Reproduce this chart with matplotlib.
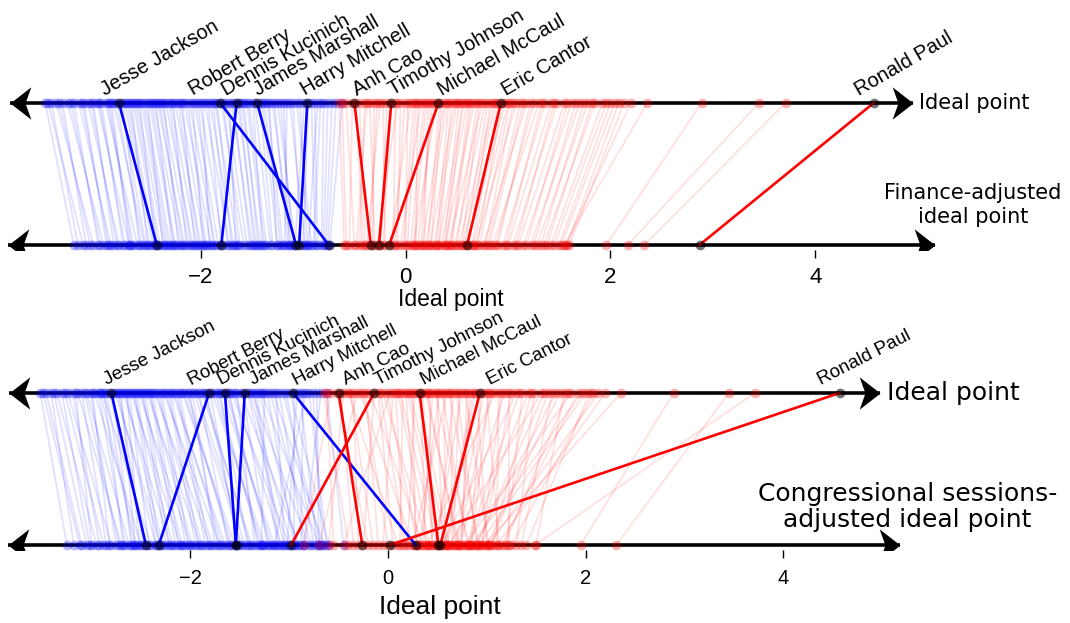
import numpy as np
import matplotlib.pyplot as plt
from matplotlib.path import Path

# Democrats (not named): ideal point, finance-adjusted, session-adjusted
dem_ideal = [-3.52, -3.46, -3.41, -3.35, -3.30, -3.24, -3.19, -3.14, -3.10, -3.05,
             -3.01, -2.97, -2.93, -2.89, -2.85, -2.76, -2.72, -2.68, -2.64, -2.60,
             -2.56, -2.52, -2.48, -2.44, -2.40, -2.36, -2.31, -2.27, -2.22, -2.18,
             -2.13, -2.08, -2.03, -1.98, -1.93, -1.88, -1.84, -1.78, -1.72, -1.68,
             -1.62, -1.58, -1.53, -1.49, -1.42, -1.38, -1.33, -1.28, -1.22, -1.16,
             -1.10, -1.03, -0.99, -0.92, -0.86, -0.80, -0.72, -0.62,
             -3.49, -3.38, -3.27, -3.16, -3.07, -2.99, -2.91, -2.87, -2.82, -2.78,
             -2.74, -2.70, -2.66, -2.62, -2.58, -2.54, -2.50, -2.46, -2.42, -2.38,
             -2.34, -2.29, -2.25, -2.20, -2.16, -2.11, -2.06, -2.01, -1.96, -1.91,
             -1.86, -1.80, -1.75, -1.70, -1.64, -1.60, -1.55, -1.47, -1.40, -1.35,
             -1.30, -1.25, -1.19, -1.13, -1.06, -0.95, -0.89, -0.83, -0.76, -0.68]
dem_finance = [-3.24, -3.20, -3.05, -3.12, -2.95, -3.00, -2.88, -2.92, -2.80, -2.85,
               -2.70, -2.76, -2.62, -2.68, -2.55, -2.60, -2.47, -2.52, -2.40, -2.44,
               -2.32, -2.37, -2.25, -2.28, -2.18, -2.22, -2.10, -2.14, -2.02, -2.06,
               -1.95, -1.98, -1.88, -1.92, -1.80, -1.74, -1.70, -1.62, -1.66, -1.52,
               -1.48, -1.44, -1.36, -1.40, -1.30, -1.22, -1.26, -1.15, -1.10, -1.18,
               -1.02, -0.96, -1.08, -0.88, -0.95, -0.82, -0.78, -0.74,
               -3.15, -3.08, -2.98, -2.90, -2.82, -2.74, -2.66, -2.70, -2.58, -2.54,
               -2.50, -2.45, -2.42, -2.36, -2.34, -2.30, -2.26, -2.20, -2.16, -2.12,
               -2.08, -2.04, -2.00, -1.96, -1.90, -1.86, -1.83, -1.78, -1.72, -1.68,
               -1.64, -1.58, -1.55, -1.50, -1.46, -1.42, -1.38, -1.32, -1.25, -1.20,
               -1.12, -1.08, -1.14, -0.98, -0.92, -1.00, -0.86, -0.90, -0.80, -0.76]
dem_session = [-3.25, -3.10, -3.18, -2.95, -3.02, -2.80, -2.92, -2.70, -2.85, -2.62,
               -2.75, -2.50, -2.66, -2.40, -2.58, -2.30, -2.48, -2.20, -2.52, -2.10,
               -2.35, -2.00, -2.25, -1.90, -2.15, -1.80, -2.05, -1.70, -1.95, -1.65,
               -1.85, -1.55, -1.60, -1.75, -1.45, -1.38, -1.50, -1.25, -1.30, -1.15,
               -1.20, -1.00, -1.35, -0.90, -1.05, -0.80, -1.10, -0.70, -0.95, -0.65,
               -0.85, -0.75, -0.60, -1.02, -0.88, -0.62, -0.70, -0.45,
               -3.12, -3.05, -2.88, -3.00, -2.72, -2.82, -2.55, -2.68, -2.45, -2.60,
               -2.35, -2.56, -2.28, -2.42, -2.18, -2.32, -2.08, -2.22, -1.98, -2.12,
               -1.88, -2.02, -1.78, -1.92, -1.68, -1.82, -1.58, -1.72, -1.48, -1.62,
               -1.40, -1.52, -1.28, -1.42, -1.18, -1.32, -1.08, -1.22, -0.98, -1.12,
               -0.92, -1.28, -0.78, -1.05, -0.68, -0.95, -0.72, -1.15, -0.66, -0.85]

# Republicans (not named)
rep_ideal = [-0.65, -0.58, -0.52, -0.45, -0.40, -0.35, -0.28, -0.22, -0.18, -0.10,
             -0.05, 0.02, 0.08, 0.12, 0.18, 0.22, 0.27, 0.35, 0.40, 0.45,
             0.50, 0.55, 0.60, 0.64, 0.70, 0.75, 0.80, 0.86, 0.90, 0.97,
             1.02, 1.08, 1.12, 1.18, 1.25, 1.30, 1.36, 1.42, 1.48, 1.55,
             1.62, 1.70, 1.78, 1.85, 1.92, 2.00, 2.08, 2.13, 2.36, 2.89,
             3.45, 3.71,
             -0.62, -0.48, -0.38, -0.31, -0.25, -0.14, -0.08, -0.01, 0.05, 0.10,
             0.15, 0.20, 0.25, 0.30, 0.33, 0.38, 0.42, 0.48, 0.52, 0.57,
             0.62, 0.67, 0.72, 0.78, 0.83, 0.88, 0.94, 1.00, 1.05, 1.15,
             1.22, 1.33, 1.45, 1.58, 1.66, 1.74, 1.82, 1.96, 2.04, 2.20]
rep_finance = [-0.60, -0.50, -0.55, -0.40, -0.45, -0.30, -0.35, -0.20, -0.25, -0.12,
               -0.08, 0.00, -0.02, 0.10, 0.05, 0.18, 0.12, 0.25, 0.20, 0.32,
               0.28, 0.40, 0.35, 0.45, 0.50, 0.42, 0.58, 0.52, 0.65, 0.60,
               0.72, 0.68, 0.80, 0.76, 0.88, 0.85, 0.95, 1.00, 1.05, 1.10,
               1.15, 1.22, 1.28, 1.35, 1.42, 1.50, 1.58, 1.60, 1.55, 1.96,
               2.17, 2.33,
               -0.58, -0.42, -0.48, -0.32, -0.38, -0.22, -0.28, -0.10, -0.15, 0.02,
               -0.05, 0.08, 0.15, 0.08, 0.22, 0.16, 0.30, 0.24, 0.38, 0.32,
               0.44, 0.38, 0.55, 0.48, 0.62, 0.56, 0.70, 0.66, 0.78, 0.82,
               0.90, 0.98, 1.08, 1.18, 1.25, 1.32, 1.38, 1.45, 1.52, 1.56]
rep_session = [-0.40, -0.85, -0.20, -0.60, 0.10, -0.30, 0.25, -0.10, 0.35, 0.05,
               0.40, -0.45, 0.15, 0.50, 0.30, 0.60, 0.20, 0.45, 0.70, 0.35,
               0.55, 0.80, 0.25, 0.65, 0.90, 0.48, 0.75, 0.58, 1.00, 0.68,
               0.85, 0.40, 1.10, 0.72, 0.95, 0.55, 1.20, 0.82, 1.30, 0.62,
               1.05, 0.88, 1.50, 0.78, 1.15, 0.92, 1.25, 1.02, 0.98, 1.95,
               2.31, 1.49,
               -0.55, -0.35, -0.15, -0.70, 0.00, -0.25, 0.18, 0.30, -0.05, 0.42,
               0.12, 0.52, 0.28, 0.62, 0.38, 0.72, 0.45, 0.82, 0.32, 0.58,
               0.92, 0.50, 0.66, 1.02, 0.74, 0.60, 0.84, 1.12, 0.70, 0.95,
               1.22, 0.80, 1.05, 0.90, 1.35, 1.00, 1.18, 0.85, 1.40, 1.10]

# named legislators
names = ['Jesse Jackson', 'Robert Berry', 'Dennis Kucinich', 'James Marshall',
         'Harry Mitchell', 'Anh Cao', 'Timothy Johnson', 'Michael McCaul',
         'Eric Cantor', 'Ronald Paul']
name_party = ['D', 'D', 'D', 'D', 'D', 'R', 'R', 'R', 'R', 'R']
name_ideal = [-2.80, -1.81, -1.65, -1.45, -0.96, -0.50, -0.14, 0.32, 0.93, 4.57]
name_finance = [-2.43, -0.75, -1.80, -1.07, -1.04, -0.34, -0.26, -0.16, 0.60, 2.87]
name_session = [-2.45, -2.32, -1.54, -1.54, 0.28, -0.26, -0.98, 0.51, 0.53, 0.02]

tick_values = [-2, 0, 2, 4]

BLUE = '#0000ff'
RED = '#ff0000'

# arrowheads as markers, tip at the marker position
codes = [Path.MOVETO, Path.LINETO, Path.LINETO, Path.LINETO, Path.CLOSEPOLY]
head_right = Path([(0, 0), (-18, 14), (-13, 0), (-18, -14), (0, 0)], codes)
head_left = Path([(0, 0), (18, 14), (13, 0), (18, -14), (0, 0)], codes)


def axis_arrow(ax, y, left, right):
    ax.plot([left, right], [y, y], color='k', lw=2.6, zorder=2, solid_capstyle='butt')
    ax.plot(left, y, marker=head_left, ms=30, color='k', mew=0, zorder=6)
    ax.plot(right, y, marker=head_right, ms=30, color='k', mew=0, zorder=6)


def draw_panel(ax, dem_bottom, rep_bottom, named_bottom, ext, label_dx, label_dy, rot, name_kw):
    for top, bot, col in [(dem_ideal, dem_bottom, BLUE), (rep_ideal, rep_bottom, RED)]:
        for a, b in zip(top, bot):
            ax.plot([a, b], [1, 0], color=col, alpha=0.12, lw=1.3, zorder=1)
    axis_arrow(ax, 1, ext[0], ext[1])
    axis_arrow(ax, 0, ext[2], ext[3])
    for top, bot, col in [(dem_ideal, dem_bottom, BLUE), (rep_ideal, rep_bottom, RED)]:
        ax.plot(top, np.ones(len(top)), 'o', color=col, alpha=0.3, ms=7, mew=0, zorder=3)
        ax.plot(bot, np.zeros(len(bot)), 'o', color=col, alpha=0.3, ms=7, mew=0, zorder=3)
    for i, name in enumerate(names):
        col = BLUE if name_party[i] == 'D' else RED
        ax.plot([name_ideal[i], named_bottom[i]], [1, 0], color=col, lw=1.9, zorder=4)
        ax.plot([name_ideal[i], named_bottom[i]], [1, 0], 'o', color='k', alpha=0.55,
                ms=7, mew=0, zorder=5)
        ax.annotate(name, (name_ideal[i], 1), xytext=(label_dx[i], label_dy),
                    textcoords='offset pixels', rotation=rot, rotation_mode='anchor',
                    ha='left', va='baseline', **name_kw)
    for s in ax.spines.values():
        s.set_visible(False)
    ax.set_yticks([])
    ax.set_xticks(tick_values)


fig = plt.figure(figsize=(10.7, 6.23), dpi=100)

# finance-adjusted panel
ax1 = fig.add_axes([0, 0.5987, 1, 0.3692])
ax1.set_xlim(-3.961, 6.488)
ax1.set_ylim(-0.0352, 1.5845)
draw_panel(ax1, dem_finance, rep_finance, name_finance,
           (-3.863, 4.956, -3.883, 5.165),
           [-14, -27, -11, 1, -2, 3, 2, 4, 5, -15], 7, 30,
           dict(family='Liberation Sans', fontsize=14.5))
ax1.tick_params(axis='x', direction='out', length=6, width=1, pad=6,
                labelsize=16, labelfontfamily='Liberation Sans')
ax1.text(5.01, 1, 'Ideal point', ha='left', va='center', fontsize=15)
ax1.text(5.54, 0.28, 'Finance-adjusted\nideal point', ha='center', va='center',
         fontsize=15, linespacing=1.25)
ax1.text(0.44, -0.387, 'Ideal point', ha='center', va='center', fontsize=16.5,
         family='Liberation Sans')

# congressional sessions panel
ax2 = fig.add_axes([0, 0.1172, 1, 0.3531])
ax2.set_xlim(-3.927, 6.903)
ax2.set_ylim(-0.0329, 1.4145)
draw_panel(ax2, dem_session, rep_session, name_session,
           (-3.836, 4.98, -3.846, 5.18),
           [-4, -18, -4, 8, 3, 7, 4, 4, 10, -19], 8, 27,
           dict(family='Liberation Sans', fontsize=13.5))
ax2.tick_params(axis='x', direction='out', length=6, width=1, pad=8,
                labelsize=14.5, labelfontfamily='Liberation Sans')
ax2.text(5.05, 1, 'Ideal point', ha='left', va='center', fontsize=18)
ax2.text(5.26, 0.25, 'Congressional sessions-\nadjusted ideal point', ha='center',
         va='center', fontsize=18, linespacing=1.15)
ax2.text(0.526, -0.408, 'Ideal point', ha='center', va='center', fontsize=19,
         family='Liberation Sans')

fig.savefig('out.png', dpi=100)
